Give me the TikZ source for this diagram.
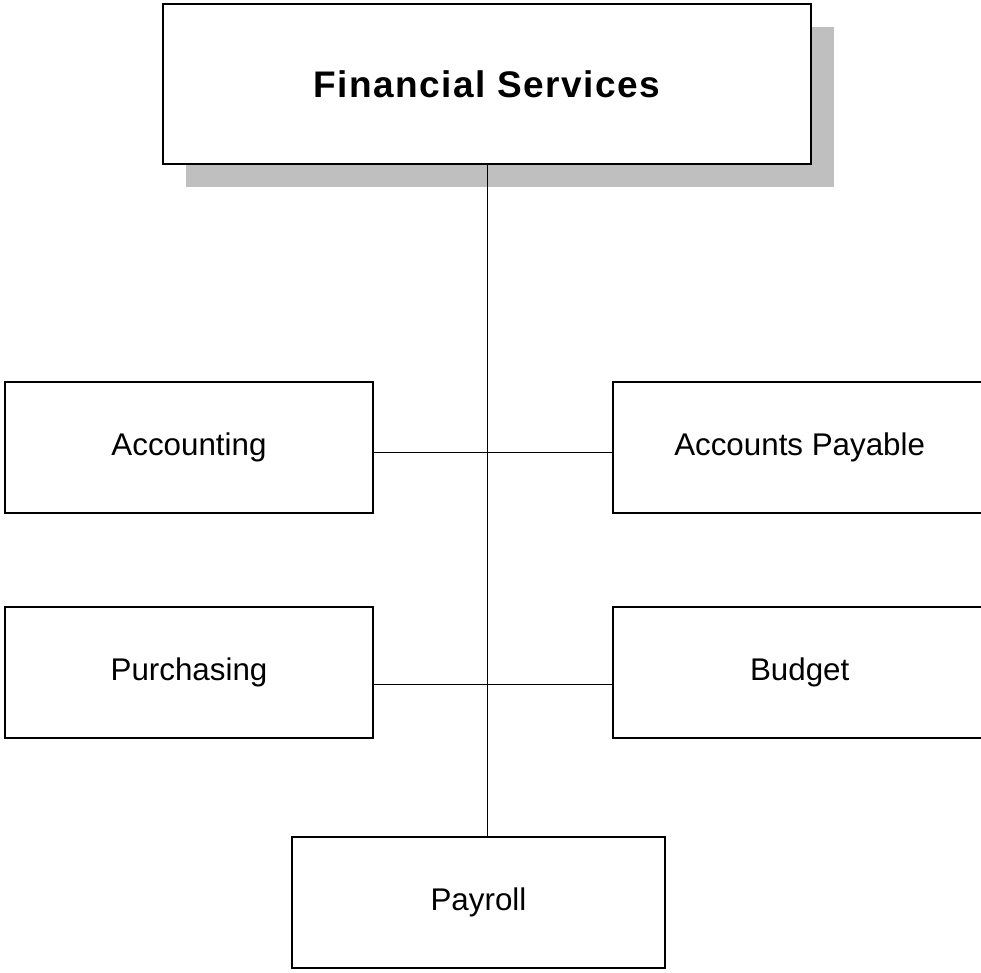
\documentclass[tikz,border=0pt]{standalone}
\usepackage{fontspec}
\setmainfont{Liberation Sans}
\usepackage{tikz}
\usetikzlibrary{shapes,shadows}
\tikzstyle{block} = [draw,rectangle,fill=white,line width=1.5pt,minimum width=276pt,minimum height=98.25pt,inner sep=0pt,font=\fontsize{23.5pt}{28pt}\selectfont]
\tikzstyle{topBlock} = [block,minimum width=486pt,minimum height=120pt,font=\addfontfeature{LetterSpace=4}\fontsize{27.75pt}{33pt}\selectfont\bfseries,drop shadow={shadow xshift=17.25pt,shadow yshift=-17.25pt,fill=black!25,opacity=1}]
\tikzstyle{line} = [draw,line width=0.75pt]

\begin{document}
\begin{tikzpicture}
		\useasboundingbox (0,0) rectangle (735.75pt,-729.75pt);
		\node[topBlock](finance) at (365.25pt,-63pt){Financial Services};
		\node[block,below of=finance,node distance=272.6pt,xshift=-223.5pt](accounting){Accounting};
		\node[block,below of=finance,node distance=272.6pt,xshift=234.5pt,minimum width=280pt](payable){Accounts Payable};
		\node[block,below of=accounting,node distance=168.75pt](purchasing){Purchasing};
		\node[block,below of=payable,node distance=168.75pt,minimum width=280pt](budget){Budget};
		\node[block,below of=finance,node distance=613.9pt,xshift=-6.4pt,minimum width=279.75pt](payroll){Payroll};
		%lines
		\path[line](finance)--(finance |- payroll.north);
		\path[line]([yshift=-4pt]accounting.east)--([yshift=-4pt]payable.west);
		\path[line]([yshift=-9pt]purchasing.east)--([yshift=-9pt]budget.west);
	\end{tikzpicture}
\end{document}
